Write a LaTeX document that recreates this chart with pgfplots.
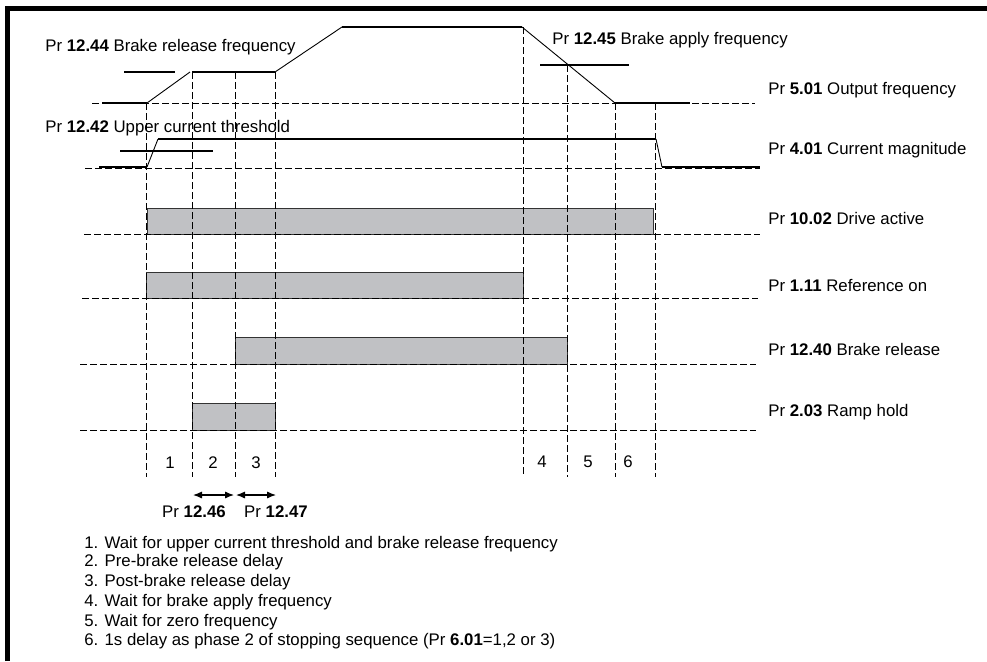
\documentclass[border=0pt]{standalone}
\usepackage{pgfplots}
\pgfplotsset{compat=1.18}
\usepackage{fontspec}
\setmainfont{Liberation Sans}
\usetikzlibrary{arrows.meta}
\definecolor{barfill}{RGB}{192,193,196}
\begin{document}
\fontsize{8.4}{10}\selectfont
\begin{tikzpicture}[every node/.append style={inner sep=0pt, font=\fontsize{8.4}{10}\selectfont}]
\begin{axis}[scale only axis, width=493.5pt, height=330.5pt,
  xmin=0, xmax=987, ymin=0, ymax=661, y dir=reverse,
  hide axis, clip=false, no markers,
  dsh/.style={black, line width=0.5pt, dash pattern=on 3.5pt off 1.5pt},
  thk/.style={black, line width=0.85pt},
  thn/.style={black, line width=0.45pt},
  bar/.style={fill=barfill, draw=black!80, line width=0.5pt}]

% frame
\addplot[black, line width=2.5pt, line join=miter] coordinates {(7.5,661) (7.5,8.5) (987,8.5)};

% bars
\addplot[bar] coordinates {(147,208) (653,208) (653,234) (147,234) (147,208)};
\addplot[bar] coordinates {(146,272) (523,272) (523,298) (146,298) (146,272)};
\addplot[bar] coordinates {(235,337) (567,337) (567,364) (235,364) (235,337)};
\addplot[bar] coordinates {(192,403) (275,403) (275,430) (192,430) (192,403)};

% horizontal dashed baselines
\addplot[dsh] coordinates {(92,103) (755,103)};
\addplot[dsh] coordinates {(85,168) (760,168)};
\addplot[dsh] coordinates {(84,234) (760,234)};
\addplot[dsh] coordinates {(82,298) (758,298)};
\addplot[dsh] coordinates {(80,364) (756,364)};
\addplot[dsh] coordinates {(80,430) (756,430)};

% vertical dashed lines
\addplot[dsh] coordinates {(146,103) (146,477)};
\addplot[dsh] coordinates {(192,72) (192,477)};
\addplot[dsh] coordinates {(235,72) (235,477)};
\addplot[dsh] coordinates {(275,72) (275,477)};
\addplot[dsh] coordinates {(523,27) (523,477)};
\addplot[dsh] coordinates {(567,65) (567,477)};
\addplot[dsh] coordinates {(615,103) (615,477)};
\addplot[dsh] coordinates {(655,103) (655,477)};

% output frequency
\addplot[thk] coordinates {(102,103) (147,103)};
\addplot[thn] coordinates {(147,103) (190,72)};
\addplot[thk] coordinates {(192,72) (275,72)};
\addplot[thn] coordinates {(275,72) (342,27)};
\addplot[thk] coordinates {(342,27) (522,27)};
\addplot[thn] coordinates {(522,27) (615,103)};
\addplot[thk] coordinates {(615,103) (690,103)};
% thresholds
\addplot[thk] coordinates {(124,72) (175,72)};
\addplot[thk] coordinates {(540,65) (629,65)};
\addplot[thk] coordinates {(120,151) (213,151)};

% current magnitude
\addplot[thk] coordinates {(99,167) (147,167)};
\addplot[thn] coordinates {(147,167) (158,139)};
\addplot[thk] coordinates {(158,139) (656,139)};
\addplot[thn] coordinates {(656,139) (662,167)};
\addplot[thk] coordinates {(662,167) (760,167)};

% delay arrows
\addplot[black, line width=0.6pt, {Latex[length=4.5pt,width=3.6pt]}-{Latex[length=4.5pt,width=3.6pt]}] coordinates {(193,495) (234,495)};
\addplot[black, line width=0.6pt, {Latex[length=4.5pt,width=3.6pt]}-{Latex[length=4.5pt,width=3.6pt]}] coordinates {(236,495) (276,495)};

% labels
\node[anchor=west] at (axis cs:45,47) {Pr \textbf{12.44} Brake release frequency};
\node[anchor=west] at (axis cs:45,128) {Pr \textbf{12.42} Upper current threshold};
\node[anchor=west] at (axis cs:552,40) {Pr \textbf{12.45} Brake apply frequency};
\node[anchor=west] at (axis cs:768,90) {Pr \textbf{5.01} Output frequency};
\node[anchor=west] at (axis cs:768,150) {Pr \textbf{4.01} Current magnitude};
\node[anchor=west] at (axis cs:768,218) {Pr \textbf{10.02} Drive active};
\node[anchor=west] at (axis cs:768,285) {Pr \textbf{1.11} Reference on};
\node[anchor=west] at (axis cs:768,349) {Pr \textbf{12.40} Brake release};
\node[anchor=west] at (axis cs:768,412) {Pr \textbf{2.03} Ramp hold};

\node at (axis cs:170,463) {1};
\node at (axis cs:213,463) {2};
\node at (axis cs:256,463) {3};
\node at (axis cs:542,462) {4};
\node at (axis cs:588,462) {5};
\node at (axis cs:628,462) {6};

\node at (axis cs:194,512) {Pr \textbf{12.46}};
\node at (axis cs:276,512) {Pr \textbf{12.47}};

\node[anchor=west] at (axis cs:84,544) {1. Wait for upper current threshold and brake release frequency};
\node[anchor=west] at (axis cs:84,562) {2. Pre-brake release delay};
\node[anchor=west] at (axis cs:84,582) {3. Post-brake release delay};
\node[anchor=west] at (axis cs:84,602) {4. Wait for brake apply frequency};
\node[anchor=west] at (axis cs:84,622) {5. Wait for zero frequency};
\node[anchor=west] at (axis cs:84,641) {6. 1s delay as phase 2 of stopping sequence (Pr \textbf{6.01}=1,2 or 3)};
\end{axis}
\pgfresetboundingbox
\path (current axis.south west) rectangle (current axis.north east);
\end{tikzpicture}
\end{document}
